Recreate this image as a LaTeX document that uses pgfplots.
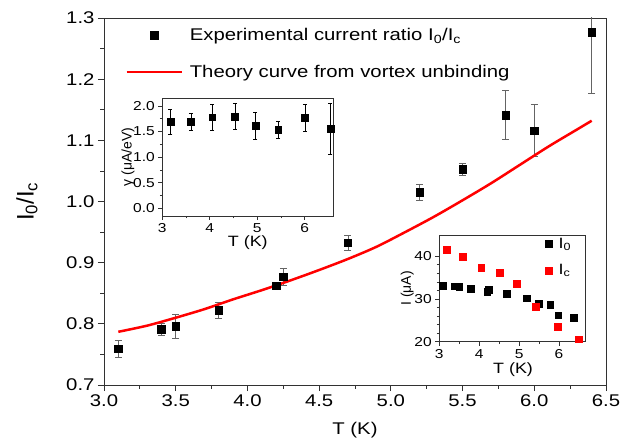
\documentclass[border=0pt]{standalone}
\usepackage{pgfplots}
\pgfplotsset{compat=1.18}
\usepackage{fontspec}
\setmainfont{Liberation Sans}[FakeStretch=1.2]
\newfontfamily\rotfont{Liberation Sans}
\definecolor{axgray}{RGB}{50,50,50}
\definecolor{errgray}{RGB}{100,100,100}
\begin{document}
\begin{tikzpicture}
\useasboundingbox (0bp,0bp) rectangle (636bp,447bp);
\pgfplotsset{
  every axis/.append style={
    scale only axis,
    axis line style={axgray, line width=0.9bp},
    every tick/.style={axgray, line width=0.8bp},
    tick align=outside, tick pos=left,
    /pgf/number format/assume math mode=true,
    axis background/.style={fill=white},
  }
}
% ---------- main axis ----------
\begin{axis}[
  at={(104bp,62bp)}, anchor=south west, width=502bp, height=367bp,
  xmin=3, xmax=6.5, ymin=0.7, ymax=1.3,
  xtick={3,3.5,4,4.5,5,5.5,6,6.5}, minor x tick num=1,
  ytick={0.7,0.8,0.9,1.0,1.1,1.2,1.3}, minor y tick num=1,
  major tick length=6bp, minor tick length=3.5bp,
  ticklabel style={font=\fontsize{17}{20}\selectfont},
  xticklabel style={/pgf/number format/.cd, fixed, fixed zerofill, precision=1},
  yticklabel style={/pgf/number format/.cd, fixed, fixed zerofill, precision=1},
  xlabel={T (K)},
  xlabel style={font=\fontsize{17}{20}\selectfont, at={(axis description cs:0.5,-0.1226)}, anchor=center},
  ylabel={I\textsubscript{0}/I\textsubscript{c}},
  ylabel style={font=\fontsize{24}{28}\selectfont\rotfont, at={(axis description cs:-0.1534,0.5)}, anchor=center},
  legend style={draw=none, fill=none, at={(axis description cs:0.042,0.978)}, anchor=north west,
    font=\fontsize{17}{20}\selectfont, inner sep=0pt, row sep=19bp,
    nodes={inner sep=2bp},
    /tikz/every odd column/.append style={column sep=5bp}},
  legend cell align=left,
]
\addplot[only marks, mark=square*, mark size=3.7bp, black,
  legend image code/.code={\path (0bp,0bp) (55bp,0bp);
    \fill[black] (23.8bp,-3.7bp) rectangle (31.2bp,3.7bp);},
  error bars/.cd, y dir=both, y explicit,
  error bar style={errgray, line width=0.6bp},
  error mark options={rotate=90, mark size=3.5bp, errgray, line width=0.6bp}]
  table[x=T, y=r, y error=e] {
T r e
3.10 0.759 0.014
3.40 0.791 0.010
3.50 0.796 0.020
3.80 0.822 0.013
4.20 0.862 0.004
4.25 0.877 0.014
4.70 0.933 0.012
5.20 1.015 0.013
5.50 1.053 0.010
5.80 1.141 0.040
6.00 1.116 0.0425
6.40 1.277 0.100
};
\addlegendentry{Experimental current ratio I\textsubscript{0}/I\textsubscript{c}}
\addplot[red, line width=2.5bp, smooth,
  legend image code/.code={\draw[red, line width=2.5bp] (0bp,0bp) -- (55bp,0bp);}]
  coordinates {
(3.1,0.787) (3.3,0.797) (3.5,0.810) (3.7,0.824) (3.9,0.840) (4.1,0.855)
(4.3,0.871) (4.5,0.888) (4.7,0.906) (4.9,0.926) (5.1,0.950) (5.3,0.975)
(5.5,1.002) (5.7,1.030) (5.9,1.060) (6.1,1.090) (6.3,1.118) (6.4,1.132)
};
\addlegendentry{Theory curve from vortex unbinding}
\end{axis}
% ---------- inset 1 ----------
\begin{axis}[
  at={(162.3bp,231bp)}, anchor=south west, width=171bp, height=117.7bp,
  xmin=3, xmax=6.6, ymin=-0.15, ymax=2.15,
  xtick={3,4,5,6}, minor x tick num=1,
  ytick={0,0.5,1,1.5,2}, minor y tick num=1,
  major tick length=4bp, minor tick length=2.5bp,
  ticklabel style={font=\fontsize{13}{15}\selectfont},
  yticklabel style={/pgf/number format/.cd, fixed, fixed zerofill, precision=1},
  xlabel={T (K)},
  xlabel style={font=\fontsize{15}{18}\selectfont, at={(axis description cs:0.5,-0.229)}, anchor=center},
  ylabel={γ (μA/eV)},
  ylabel style={font=\fontsize{14}{16}\selectfont\rotfont, at={(axis description cs:-0.2,0.5)}, anchor=center},
]
\addplot[only marks, mark=square*, mark size=3.4bp, black,
  error bars/.cd, y dir=both, y explicit,
  error bar style={black, line width=0.6bp},
  error mark options={rotate=90, mark size=2bp, black, line width=0.6bp}]
  table[x=T, y=g, y error=e] {
T g e
3.17 1.695 0.246
3.60 1.695 0.170
4.05 1.781 0.260
4.53 1.793 0.256
4.96 1.611 0.256
5.44 1.538 0.170
6.00 1.774 0.260
6.54 1.550 0.500
};
\end{axis}
% ---------- inset 2 ----------
\begin{axis}[
  at={(439.3bp,105.3bp)}, anchor=south west, width=145.7bp, height=106.7bp,
  xmin=3, xmax=6.65, ymin=20, ymax=45,
  xtick={3,4,5,6}, minor x tick num=1,
  ytick={20,30,40}, minor y tick num=4,
  major tick length=4bp, minor tick length=2.5bp,
  ticklabel style={font=\fontsize{13}{15}\selectfont},
  xlabel={T (K)},
  xlabel style={font=\fontsize{15}{18}\selectfont, at={(axis description cs:0.506,-0.265)}, anchor=center},
  ylabel={I (μA)},
  ylabel style={font=\fontsize{14}{16}\selectfont\rotfont, at={(axis description cs:-0.22,0.5)}, anchor=center},
  legend style={draw=none, fill=none, at={(axis description cs:0.719,0.995)}, anchor=north west,
    font=\fontsize{15}{17}\selectfont, inner sep=0pt, row sep=11bp,
    nodes={inner sep=2bp},
    /tikz/every odd column/.append style={column sep=4bp}},
  legend cell align=left,
]
\addplot[only marks, mark=square*, mark size=3.4bp, black,
  legend image code/.code={\path (0bp,0bp) (8bp,0bp);
    \fill[black] (0.6bp,-3.4bp) rectangle (7.4bp,3.4bp);}]
  table[x=T, y=I] {
T I
3.08 33.1
3.39 33.0
3.50 32.9
3.79 32.5
4.20 31.8
4.24 32.1
4.68 31.2
5.18 30.2
5.48 28.9
5.78 28.6
5.98 26.2
6.36 25.7
};
\addlegendentry{I\textsubscript{0}}
\addplot[only marks, mark=square*, mark size=3.4bp, red,
  legend image code/.code={\path (0bp,0bp) (8bp,0bp);
    \fill[red] (0.6bp,-3.4bp) rectangle (7.4bp,3.4bp);}]
  table[x=T, y=I] {
T I
3.18 41.6
3.59 40.0
4.05 37.3
4.52 36.1
4.93 33.6
5.41 28.2
5.96 23.6
6.49 20.6
};
\addlegendentry{I\textsubscript{c}}
\end{axis}
\end{tikzpicture}
\end{document}
